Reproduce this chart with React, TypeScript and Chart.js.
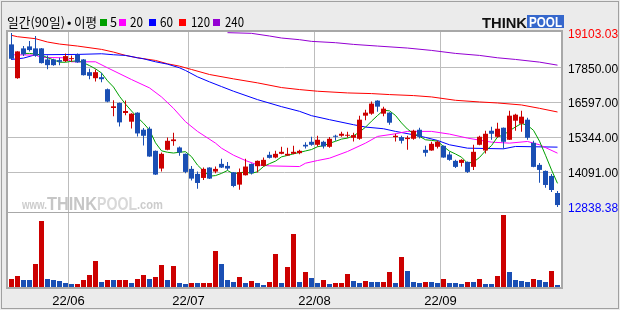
import { useEffect, useRef } from 'react';
import { Chart, registerables } from 'chart.js';

Chart.register(...registerables);

// ---------------- data ----------------
const monthLabels = ['22/06', '22/07', '22/08', '22/09'];
const monthStartDay = [10, 30, 51, 72];

const opens = [
  18693, 17476, 18549, 18621, 18549, 18549, 18151, 18151, 18127, 18091,
  18163, 18320, 18151, 17693, 17476, 17513, 17079, 16404, 16585, 16223,
  15910, 16236, 15621, 15657, 14862, 14224, 14898, 15211, 14983, 14754,
  14212, 14031, 13886, 14260, 14115, 14392, 14320, 14091, 13645, 13983,
  14392, 14308, 14320, 14718, 14621, 14754, 14693, 14754, 14778, 15079,
  15187, 15079, 15187, 15007, 15404, 15404, 15404, 15332, 15296, 16127,
  16199, 16669, 16199, 16236, 15356, 15356, 15284, 15296, 15621, 14898,
  14874, 15007, 15043, 14730, 14501, 14428, 14464, 14284, 15079, 14874,
  15585, 15368, 15693, 15260, 15946, 15838, 15983, 15151, 14356, 14139,
  13958, 13344,
];
const highs = [
  19103.03, 18450, 18633, 18814, 18994, 18561, 18296, 18175, 18211, 18368,
  18296, 18368, 18163, 17814, 17790, 17669, 17103, 16681, 16597, 16669,
  16211, 16248, 15681, 15730, 14874, 14802, 15344, 15513, 15019, 14766,
  14320, 14115, 14260, 14272, 14296, 14573, 14464, 14103, 14224, 14573,
  14404, 14513, 14621, 14826, 14862, 15007, 14971, 15043, 14898, 15175,
  15368, 15404, 15223, 15356, 15440, 15549, 15549, 15513, 16127, 16344,
  16633, 16681, 16452, 16248, 15476, 15404, 15404, 15621, 15693, 15043,
  15187, 15223, 15055, 14826, 14537, 14561, 14476, 15079, 15404, 15585,
  15730, 15874, 15705, 16308, 16199, 16308, 16055, 15223, 14428, 14151,
  14031, 13416,
];
const lows = [
  18127, 17460, 18272, 18440, 18247, 18007, 17802, 17922, 17946, 18055,
  18067, 18031, 17573, 17440, 17356, 17332, 16609, 16103, 15742, 16139,
  15669, 15380, 15055, 14645, 13995, 14115, 14886, 15043, 14681, 14055,
  13790, 13501, 13814, 13850, 14055, 14248, 14175, 13549, 13465, 13971,
  14007, 14091, 14296, 14585, 14597, 14742, 14681, 14742, 14742, 14946,
  15043, 15019, 14946, 14971, 15223, 15368, 15332, 15199, 15260, 15958,
  16163, 16272, 16103, 15802, 15199, 15127, 14898, 15260, 15308, 14657,
  14862, 14946, 14609, 14501, 14248, 14296, 14067, 14175, 15067, 14766,
  15260, 15332, 14934, 15248, 15585, 15549, 15260, 14272, 13717, 13537,
  13380, 12838.38,
];
const closes = [
  18175, 18440, 18332, 18489, 18284, 18019, 17946, 17946, 18067, 18272,
  18187, 18043, 17585, 17561, 17693, 17440, 16633, 16464, 15886, 16296,
  16199, 15488, 15404, 14657, 14007, 14754, 15223, 15272, 14802, 14103,
  13862, 13705, 14212, 13862, 14212, 14260, 14224, 13597, 14091, 14296,
  14055, 14501, 14537, 14609, 14754, 14826, 14754, 14826, 14862, 15019,
  15079, 15260, 15019, 15296, 15368, 15476, 15440, 15428, 15983, 16236,
  16561, 16452, 16380, 15874, 15404, 15223, 15332, 15585, 15368, 14790,
  15115, 15187, 14621, 14537, 14284, 14537, 14103, 14826, 15368, 15476,
  15476, 15657, 15187, 16127, 16163, 16091, 15332, 14284, 14175, 13633,
  13452, 12910,
];
// volume in thousand shares
const volumes = [
  27, 36, 24, 24, 72, 201, 27, 24, 21, 15,
  12, 12, 24, 39, 81, 18, 24, 24, 24, 24,
  15, 27, 39, 27, 33, 69, 24, 66, 15, 12,
  15, 15, 15, 15, 111, 72, 24, 18, 33, 15,
  21, 15, 9, 18, 102, 15, 63, 162, 18, 48,
  30, 15, 24, 12, 15, 15, 42, 21, 15, 21,
  18, 18, 18, 48, 15, 93, 51, 18, 15, 18,
  18, 15, 27, 15, 15, 12, 18, 18, 27, 12,
  12, 36, 219, 48, 24, 21, 18, 27, 24, 18,
  51, 9,
];
// R = volume bar shown as rising, B = falling
const volumeTone =
  'RRBBRRBBBB' + 'BRRRRBRBRR' + 'BRRBRRBRBB' + 'RBRRRBBBRB' + 'RBBRRBRRBR' +
  'BBRBRRRBBR' + 'BBRRBRBBBR' + 'BBRBBBRBRB' + 'BRRBBBBRBB' + 'RB';

const priceTicks = [12838.38, 14091, 15344, 16597, 17850, 19103.03];

const maPeriods = ['5', '20', '60', '120', '240'];
const ma5Lead = [null, null, 18368, 18368];
const ma20Day = [0, 4, 5, 9, 10, 14, 16, 20, 23, 25, 27, 29, 31, 34, 35, 37, 39, 41, 43, 48, 49, 51, 53, 56, 59, 61, 64, 66, 70, 73, 76, 80, 83, 86, 88, 91];
const ma20Val = [18320, 18308, 18223, 18211, 18067, 18067, 17850, 17428, 17127, 16802, 16392, 15910, 15561, 15139, 14958, 14705, 14513, 14356, 14320, 14296, 14416, 14513, 14597, 14838, 15139, 15380, 15476, 15561, 15561, 15464, 15320, 15175, 15139, 15199, 15079, 14778];
const ma60Day = [0, 2, 4, 11, 15, 17, 19, 21, 22, 24, 26, 28, 29, 31, 33, 35, 37, 41, 45, 48, 50, 53, 57, 59, 62, 64, 67, 69, 71, 73, 76, 82, 84, 91];
const ma60Val = [18151, 18199, 18320, 18332, 18356, 18320, 18296, 18211, 18175, 18067, 17982, 17850, 17754, 17525, 17344, 17175, 17007, 16705, 16452, 16284, 16127, 15983, 15802, 15717, 15657, 15561, 15440, 15344, 15235, 15079, 14958, 14934, 15019, 14995];
const ma120Day = [0, 1, 4, 6, 8, 11, 15, 17, 19, 21, 24, 26, 28, 30, 33, 37, 41, 45, 48, 51, 56, 60, 63, 67, 70, 74, 78, 81, 85, 88, 91];
const ma120Val = [19019, 18970, 18898, 18778, 18705, 18633, 18513, 18416, 18296, 18211, 18115, 17995, 17910, 17790, 17609, 17452, 17308, 17139, 17067, 17007, 16946, 16922, 16886, 16850, 16802, 16681, 16621, 16585, 16513, 16392, 16260];
const ma240Day = [36, 40, 43, 45, 48, 50, 54, 57, 61, 66, 70, 74, 78, 81, 84, 88, 91];
const ma240Val = [19115, 19091, 18995, 18922, 18862, 18802, 18754, 18693, 18633, 18561, 18476, 18368, 18296, 18211, 18151, 18055, 17946];

// ---------------- style ----------------
const RED = '#cc0000';
const BLUE = '#1a4fb4';
const GRID = '#bdbdbd';
const BG = '#ebebeb';
const MA_COLORS = ['#00a000', '#ff00ff', '#0000ff', '#ff0000', '#9400d3'];
const TICK_FONT = "'Liberation Sans', 'DejaVu Sans', sans-serif";

const decor = {
  id: 'decor',
  beforeDraw(chart: any) {
    const { ctx, chartArea: a } = chart;
    ctx.save();
    ctx.fillStyle = BG;
    ctx.fillRect(0, 0, chart.width, chart.height);
    ctx.fillStyle = '#ffffff';
    ctx.fillRect(a.left, a.top, a.right - a.left, a.bottom - a.top);
    ctx.restore();
  },
  beforeDatasetsDraw(chart: any) {
    const { ctx } = chart;
    const yb = chart.scales.y.bottom;
    ctx.save();
    ctx.textBaseline = 'alphabetic';
    ctx.fillStyle = '#cccccc';
    ctx.font = "bold 13px 'Liberation Sans', sans-serif";
    ctx.fillText('www.', 22, yb - 3, 25);
    ctx.font = "bold 19px 'Liberation Sans', sans-serif";
    ctx.fillStyle = '#c6c6c6';
    ctx.fillText('THINK', 47, yb - 2, 50);
    ctx.fillStyle = '#d8d8d8';
    ctx.fillText('POOL', 97, yb - 2, 40);
    ctx.fillStyle = '#cccccc';
    ctx.font = "bold 13px 'Liberation Sans', sans-serif";
    ctx.fillText('.com', 137, yb - 3, 26);
    ctx.restore();
  },
  afterDraw(chart: any) {
    const { ctx, chartArea: a } = chart;
    const yb = chart.scales.y.bottom;
    ctx.save();
    // panel borders
    ctx.strokeStyle = '#a8a8a8';
    ctx.lineWidth = 2;
    ctx.strokeRect(a.left, a.top, a.right - a.left, a.bottom - a.top);
    ctx.lineWidth = 1;
    ctx.beginPath();
    ctx.moveTo(a.left, yb + 0.5);
    ctx.lineTo(a.right, yb + 0.5);
    ctx.stroke();
    // outer frame
    ctx.strokeStyle = '#a0a0a0';
    ctx.strokeRect(1.5, 1.5, chart.width - 3, chart.height - 3);

    // title
    ctx.fillStyle = '#000';
    ctx.textBaseline = 'alphabetic';
    ctx.font = "13px 'Noto Sans CJK KR', sans-serif";
    ctx.fillText('일간(90일)', 7, 27, 58);
    ctx.fillText('•', 67, 27, 5);
    ctx.fillText('이평', 74, 27, 23);
    const sqX = [100, 119, 149, 179, 213];
    const txX = [110, 130, 160, 191, 225];
    const txW = [7, 13, 13, 19, 19];
    maPeriods.forEach((p, k) => {
      ctx.fillStyle = MA_COLORS[k];
      ctx.fillRect(sqX[k], 19, 7, 7);
      ctx.fillStyle = '#000';
      ctx.fillText(p, txX[k], 27, txW[k]);
    });

    // logo
    ctx.font = "bold 15px 'Liberation Sans', sans-serif";
    ctx.fillStyle = '#111';
    ctx.fillText('THINK', 482, 27.5, 45);
    ctx.fillStyle = '#3567cc';
    ctx.fillRect(527, 15, 37, 13);
    ctx.font = "bold 14px 'Liberation Sans', sans-serif";
    ctx.fillStyle = '#ffffff';
    ctx.fillText('POOL', 529, 27, 33);
    ctx.restore();
  },
};

export default function App() {
  const ref = useRef<HTMLCanvasElement>(null);

  useEffect(() => {
    document.body.style.margin = '0';
    const canvas = ref.current!;
    const days = opens.map((_, i) => i);
    const candleColor = days.map((i) => (closes[i] >= opens[i] ? RED : BLUE));
    const volColor = days.map((i) => (volumeTone[i] === 'R' ? RED : BLUE));

    const ma5 = days
      .map((i) => {
        if (i < 4) return { x: i, y: ma5Lead[i] };
        const s = closes.slice(i - 4, i + 1).reduce((t, v) => t + v, 0);
        return { x: i, y: s / 5 };
      })
      .filter((p) => p.y !== null);
    const pts = (d: number[], v: number[]) => d.map((x, k) => ({ x, y: v[k] }));
    const maSeries = [ma5, pts(ma20Day, ma20Val), pts(ma60Day, ma60Val), pts(ma120Day, ma120Val), pts(ma240Day, ma240Val)];

    const maxP = Math.max(...highs);
    const minP = Math.min(...lows);

    const lineSets = maSeries.map((data, k) => ({
      type: 'line' as const,
      label: 'MA' + maPeriods[k],
      data,
      borderColor: MA_COLORS[k],
      borderWidth: 1,
      pointRadius: 0,
      tension: 0,
      yAxisID: 'y',
      order: 3 + k,
    }));

    const chart = new Chart(canvas, {
      type: 'bar',
      data: {
        datasets: [
          {
            type: 'bar',
            label: 'body',
            data: days.map((i) => ({ x: i, y: [opens[i], closes[i]] })) as any,
            backgroundColor: candleColor,
            barThickness: 5,
            minBarLength: 1,
            grouped: false,
            inflateAmount: 0,
            borderWidth: 0,
            yAxisID: 'y',
            order: 1,
          },
          {
            type: 'bar',
            label: 'wick',
            data: days.map((i) => ({ x: i, y: [lows[i], highs[i]] })) as any,
            backgroundColor: candleColor,
            barThickness: 1,
            grouped: false,
            inflateAmount: 0,
            borderWidth: 0,
            yAxisID: 'y',
            order: 2,
          },
          {
            type: 'bar',
            label: 'volume',
            data: days.map((i) => ({ x: i, y: volumes[i] })) as any,
            backgroundColor: volColor,
            barThickness: 5,
            grouped: false,
            inflateAmount: 0,
            borderWidth: 0,
            yAxisID: 'yv',
            order: 1,
          },
          ...(lineSets as any),
        ],
      },
      options: {
        responsive: false,
        animation: false,
        devicePixelRatio: 1,
        events: [],
        layout: { padding: { top: 31, left: 7, right: 0, bottom: 0 } },
        plugins: { legend: { display: false }, tooltip: { enabled: false }, title: { display: false } },
        scales: {
          x: {
            type: 'linear',
            min: -0.75,
            max: 91.75,
            offset: false,
            grid: { offset: false, color: GRID, lineWidth: 1, drawTicks: false, tickLength: 0 },
            border: { display: false },
            ticks: {
              autoSkip: false,
              maxRotation: 0,
              padding: 6,
              color: '#000',
              font: { family: TICK_FONT, size: 13 },
              callback: (_v: any, idx: number) => monthLabels[idx],
            },
            afterBuildTicks: (s: any) => {
              s.ticks = monthStartDay.map((d) => ({ value: d - 0.5 }));
            },
            afterFit: (s: any) => {
              s.height = 22;
            },
          },
          y: {
            type: 'linear',
            position: 'right',
            stack: 'panels',
            stackWeight: 181,
            min: 12660,
            max: 19175,
            grid: {
              color: (c: any) => (c.tick && (c.tick.value === maxP || c.tick.value === minP) ? 'rgba(0,0,0,0)' : GRID),
              drawTicks: false,
              tickLength: 0,
            },
            border: { display: false },
            ticks: {
              padding: 6,
              labelOffset: 1.5,
              font: { family: TICK_FONT, size: 12 },
              color: (c: any) => (c.tick && c.tick.value === maxP ? '#ff0000' : c.tick && c.tick.value === minP ? '#0000ff' : '#000'),
              callback: (v: any) => Number(v).toFixed(2),
            },
            afterBuildTicks: (s: any) => {
              s.ticks = priceTicks.map((v) => ({ value: v }));
            },
            afterFit: (s: any) => {
              s.width = 58;
            },
          },
          yv: {
            type: 'linear',
            position: 'right',
            stack: 'panels',
            stackWeight: 76,
            min: 0,
            max: 228,
            grid: { display: false, drawTicks: false },
            border: { display: false },
            ticks: { display: false },
            afterFit: (s: any) => {
              s.width = 58;
            },
          },
        },
      } as any,
      plugins: [decor],
    });
    return () => chart.destroy();
  }, []);

  return <canvas ref={ref} width={620} height={310} style={{ display: 'block' }} />;
}
